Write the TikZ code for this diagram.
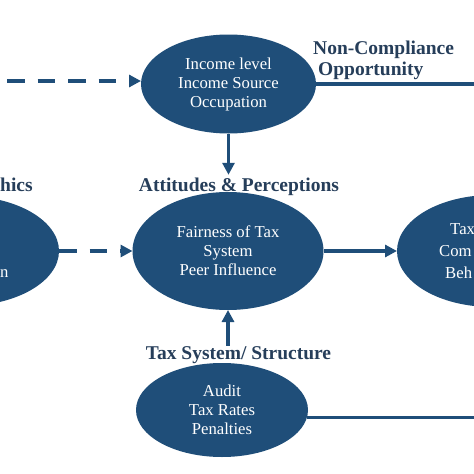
\documentclass[tikz,border=0pt]{standalone}
\usepackage{fontspec}
\setmainfont{Liberation Serif}
\usetikzlibrary{arrows.meta,shapes.geometric}
\definecolor{ellblue}{RGB}{31,78,121}
\definecolor{lblcol}{RGB}{38,62,90}
\begin{document}
\begin{tikzpicture}[x=1pt,y=-1pt,
  ell/.style={ellipse, fill=ellblue, draw=none, inner sep=0pt, outer sep=0pt, text=white, align=center, font=\fontsize{16.7}{19}\selectfont},
  lbl/.style={text=lblcol, font=\bfseries\fontsize{19.5}{21}\selectfont, inner sep=0pt},
  frag/.style={text=white, font=\fontsize{16.7}{19}\selectfont, inner sep=0pt},
  conn/.style={draw=ellblue, line width=3.8pt},
  tip/.style={-{Triangle[length=12pt,width=12pt]}},
  dashline/.style={dash pattern=on 17.5pt off 13pt}
]
\useasboundingbox (0,0) rectangle (474,474);
\clip (0,0) rectangle (474,474);
\fill[white] (0,0) rectangle (474,474);

\node[ell, minimum width=175pt, minimum height=99pt] (top) at (228.5,84) {Income level\\Income Source\\Occupation};
\node[ell, minimum width=191pt, minimum height=118pt] (mid) at (228,251) {Fairness of Tax\\System\\Peer Influence};
\node[ell, minimum width=172pt, minimum height=94pt] (bot) at (222,410) {Audit\\Tax Rates\\Penalties};
\node[ell, minimum width=190pt, minimum height=110pt] (lft) at (-36,251) {};
\node[ell, minimum width=190pt, minimum height=112pt] (rgt) at (492,251) {};

\node[frag, anchor=base west] (n1) at (0,277) {n};
\node[frag, anchor=base west] (r1) at (450,234) {Tax};
\node[frag, anchor=base west] (r2) at (439,256) {Com};
\node[frag, anchor=base west] (r3) at (445,278) {Beh};

\node[lbl, anchor=base] (att) at (239,191) {Attitudes \& Perceptions};
\node[lbl, anchor=base] (tss) at (238.5,359) {Tax System/ Structure};
\node[lbl, anchor=base west] (nc1) at (313,54) {Non-Compliance};
\node[lbl, anchor=base west] (nc2) at (318,75) {Opportunity};
\node[lbl, anchor=base west] (dem) at (0,191) {hics};

\coordinate (tl) at (7,81);
\coordinate (R) at (480,0);
\coordinate (atttop) at ([yshift=2.5pt]att.north);

\draw[conn, dashline, tip] (tl) -- (tl -| top.west);
\draw[conn] (top.east) -- (top.east -| R);
\draw[conn, tip] (top.south) -- (top.south |- atttop);
\draw[conn, dashline, tip] (lft.east) -- (mid.west);
\draw[conn, tip] (mid.east) -- (rgt.west);
\draw[conn, tip] (tss.north -| mid.south) -- (mid.south);
\draw[conn] (bot.-5.5) -- (bot.-5.5 -| R);
\end{tikzpicture}
\end{document}
